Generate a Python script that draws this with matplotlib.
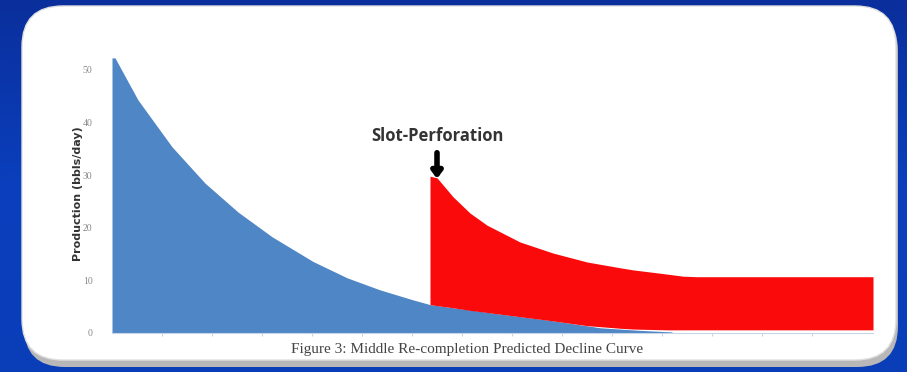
import numpy as np
import matplotlib
matplotlib.use('Agg')
import matplotlib.pyplot as plt
from matplotlib.patches import FancyBboxPatch

# x in tick units (one tick step per unit), y in bbls/day
blue_x = [0, 0.06, 0.52, 1.2, 1.86, 2.52, 3.2, 4.02, 4.7, 5.36, 6.02, 6.36, 7.76, 8.76, 9.76, 10.56, 11.2]
blue_y = [52.3, 52.3, 44.3, 35.4, 28.5, 23.0, 18.3, 13.6, 10.5, 8.2, 6.3, 5.4, 3.6, 2.4, 1.0, 0.5, 0.2]

red_x = [6.36, 6.5, 6.82, 7.16, 7.5, 8.16, 8.82, 9.5, 10.16, 10.42, 11.1, 11.42, 11.7, 15.22]
red_top = [29.8, 29.5, 25.9, 22.8, 20.5, 17.3, 15.2, 13.5, 12.4, 12.0, 11.2, 10.8, 10.7, 10.7]
red_bottom = [5.4, 5.2, 4.8, 4.3, 3.9, 3.1, 2.3, 1.4, 0.9, 0.75, 0.6, 0.6, 0.6, 0.6]

yticks = [0, 10, 20, 30, 40, 50]

fig = plt.figure(figsize=(9.07, 3.72), dpi=100)

# blue slide background
bg = fig.add_axes([0, 0, 1, 1])
grad = np.linspace(0, 1, 256).reshape(-1, 1)
bg.imshow(grad, aspect='auto', cmap=matplotlib.colors.LinearSegmentedColormap.from_list(
    'bg', ['#0a2f9c', '#0a3fbd', '#0b3db8']), extent=[0, 1, 0, 1])
bg.set_xlim(0, 1)
bg.set_ylim(0, 1)
bg.axis('off')

# white rounded panel with grey shadow
shadow = FancyBboxPatch((24 / 907, 5 / 372), 874 / 907, 357 / 372,
                        boxstyle='round,pad=0,rounding_size=0.045',
                        transform=bg.transAxes, facecolor='#b8b8b8', edgecolor='none',
                        mutation_aspect=907 / 372)
bg.add_patch(shadow)
panel = FancyBboxPatch((22 / 907, 12 / 372), 874 / 907, 354 / 372,
                       boxstyle='round,pad=0,rounding_size=0.045',
                       transform=bg.transAxes, facecolor='white', edgecolor='#e0e0e0',
                       mutation_aspect=907 / 372)
bg.add_patch(panel)

ax = fig.add_axes([112 / 907, 1 - 333 / 372, 761 / 907, 278.8 / 372])
ax.fill_between(blue_x, 0, blue_y, color='#4f86c6', linewidth=0)
ax.fill_between(red_x, red_bottom, red_top, color='#fa0a0a', linewidth=0)
ax.set_xlim(0, 15.22)
ax.set_ylim(0, 53)
ax.set_yticks(yticks)
ax.set_yticklabels([str(v) for v in yticks], fontsize=7, color='#888888', family='Liberation Serif')
ax.set_xticks(np.arange(1, 15))
ax.set_xticklabels([])
ax.tick_params(axis='x', length=2, color='#c8d4e8')
ax.tick_params(axis='y', length=0, pad=14)
for s in ['top', 'right', 'left']:
    ax.spines[s].set_visible(False)
ax.spines['bottom'].set_color('#c8d4e8')
ax.set_ylabel('Production (bbls/day)', fontsize=8, fontweight='bold', color='#333333', labelpad=0)

ax.annotate('', xy=(6.5, 28.8), xytext=(6.5, 34.8),
            arrowprops=dict(arrowstyle='-|>,head_width=0.3,head_length=0.4', color='black', lw=4))
ax.text(6.5, 37.4, 'Slot-Perforation', ha='center', va='center', fontsize=12,
        fontweight='bold', color='#333333', family='Open Sans')

fig.text(467 / 907, 1 - 350 / 372, 'Figure 3: Middle Re-completion Predicted Decline Curve',
         ha='center', va='center', fontsize=11, color='#444444', family='Liberation Serif')

fig.savefig('out.png', dpi=100)
